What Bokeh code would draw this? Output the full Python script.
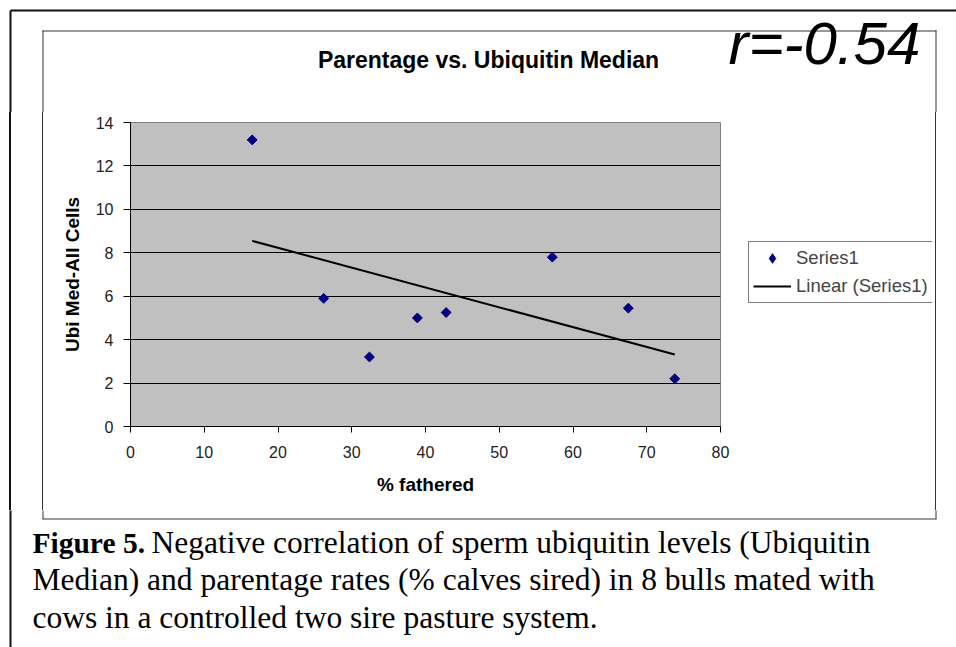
import numpy as np
from bokeh.plotting import figure
from bokeh.layouts import column, row
from bokeh.models import (Range1d, FixedTicker, Label, Legend, LegendItem,
                          ColumnDataSource, Div)
from bokeh.embed import file_html
from bokeh.resources import INLINE

# ---- data ----
pct_fathered = [16.5, 26.2, 32.4, 38.9, 42.8, 57.2, 67.5, 73.8]
ubi_median = [13.2, 5.9, 3.2, 5.0, 5.25, 7.8, 5.45, 2.2]
x_ticks = [0, 10, 20, 30, 40, 50, 60, 70, 80]
y_ticks = [0, 2, 4, 6, 8, 10, 12, 14]
series_name = "Series1"
trend_name = "Linear (Series1)"
title_text = "Parentage vs. Ubiquitin Median"
r_text = "r=-0.54"
x_label = "% fathered"
y_label = "Ubi Med-All Cells"
caption_bold = "Figure 5."
caption_line1 = "Negative correlation of sperm ubiquitin levels (Ubiquitin"
caption_line2 = "Median) and parentage rates (% calves sired) in 8 bulls mated with"
caption_line3 = "cows in a controlled two sire pasture system."

# linear trend line (least squares fit of the series)
slope, intercept = np.polyfit(pct_fathered, ubi_median, 1)
trend_x = [min(pct_fathered), max(pct_fathered)]
trend_y = [slope * v + intercept for v in trend_x]

SANS = "Liberation Sans"
SERIF = "Liberation Serif"
MARKER_COLOR = "#000080"
OUTER = "#111111"
INNER = "#333333"

W = 956
H_TOP, H_MID, H_BOT = 112, 398, 137      # header / chart row / caption heights
W_LEFT, W_MAIN, W_LEG = 50, 690, 192      # left strip / chart / legend strip
W_RIGHT = W - W_LEFT - W_MAIN - W_LEG
Y_MID = H_TOP
Y_BOT = H_TOP + H_MID


def canvas(w, h, x0, y0):
    """A plain drawing area whose coordinates are page pixels."""
    c = figure(width=w, height=h, x_range=Range1d(x0, x0 + w),
               y_range=Range1d(y0 + h, y0), min_border=0,
               x_axis_location=None, y_axis_location=None,
               output_backend="svg", toolbar_location=None)
    c.grid.visible = False
    c.outline_line_color = None
    c.background_fill_color = "white"
    c.border_fill_color = "white"
    return c


# ---------------- header ----------------
top = canvas(W, H_TOP, 0, 0)
top.segment(x0=[10, 10], y0=[10, 10], x1=[W + 5, 10], y1=[10, H_TOP + 5],
            line_color=OUTER, line_width=2)
top.segment(x0=[42, 42.5, 935.5], y0=[30.5, 30, 30], x1=[936, 42.5, 935.5],
            y1=[30.5, H_TOP + 5, H_TOP + 5], line_color=INNER, line_width=1)
# (Label y is the visual centre of the capitals)
top.add_layout(Label(x=488, y=59, text=title_text, text_align="center",
                     text_baseline="alphabetic", text_font=SANS,
                     text_font_style="bold", text_font_size="23px",
                     text_color="black"))
top.add_layout(Label(x=728, y=43, text=r_text, text_align="left",
                     text_baseline="alphabetic", text_font=SANS,
                     text_font_style="italic", text_font_size="60px",
                     text_color="black"))

# ---------------- left strip (box edges) ----------------
left = Div(width=W_LEFT, height=H_MID, margin=0,
           text=('<div style="box-sizing:border-box;margin:0 0 0 9px;padding:0;'
                 'width:34px;height:%dpx;border-left:2px solid %s;'
                 'border-right:1px solid %s;"></div>' % (H_MID, OUTER, INNER)))

# ---------------- main chart ----------------
p = figure(width=W_MAIN, height=H_MID, output_backend="svg", toolbar_location=None,
           x_range=Range1d(x_ticks[0], x_ticks[-1]),
           y_range=Range1d(y_ticks[0], y_ticks[-1]),
           min_border_left=80, min_border_right=20,
           min_border_top=10, min_border_bottom=84)
p.background_fill_color = "#C0C0C0"
p.border_fill_color = "white"
p.outline_line_color = "#808080"
p.xgrid.visible = False
p.ygrid.grid_line_color = "black"
p.ygrid.grid_line_width = 1
p.ygrid.ticker = FixedTicker(ticks=y_ticks)
p.xaxis.ticker = FixedTicker(ticks=x_ticks)
p.yaxis.ticker = FixedTicker(ticks=y_ticks)
for ax in (p.xaxis[0], p.yaxis[0]):
    ax.axis_line_color = "black"
    ax.major_tick_line_color = "black"
    ax.minor_tick_line_color = None
    ax.major_tick_in = 0
    ax.major_label_text_font = SANS
    ax.major_label_text_font_size = "16px"
    ax.major_label_text_color = "#222222"
    ax.axis_label_text_font = SANS
    ax.axis_label_text_font_style = "bold"
    ax.axis_label_text_font_size = "19px"
    ax.axis_label_text_color = "black"
p.xaxis.major_tick_out = 6
p.yaxis.major_tick_out = 7
p.xaxis.major_label_standoff = 13
p.yaxis.major_label_standoff = 10
p.xaxis.axis_label = x_label
p.yaxis.axis_label = y_label
p.xaxis.axis_label_standoff = 13
p.yaxis.axis_label_standoff = 10

src = ColumnDataSource(dict(x=pct_fathered, y=ubi_median))
trend_src = ColumnDataSource(dict(x=trend_x, y=trend_y))
p.scatter("x", "y", source=src, marker="square", size=7, angle=np.pi / 4,
          fill_color=MARKER_COLOR, line_color=MARKER_COLOR)
p.line("x", "y", source=trend_src, line_color="black", line_width=2)

# ---------------- legend strip ----------------
# The strip is aligned with the chart frame (page y 122..426); its legend
# refers to the same series (drawn there outside the strip's visible area).
leg = canvas(W_LEG, H_MID, W_LEFT + W_MAIN, Y_MID)
leg_pts = leg.scatter("x", "y", source=src, marker="diamond", size=10,
                      fill_color=MARKER_COLOR, line_color=MARKER_COLOR)
leg_line = leg.line("x", "y", source=trend_src, line_color="black", line_width=2)
legend = Legend(items=[LegendItem(label=series_name, renderers=[leg_pts]),
                       LegendItem(label=trend_name, renderers=[leg_line])],
                location=(748 - (W_LEFT + W_MAIN), 426 - 303))
legend.border_line_color = "black"
legend.border_line_width = 1
legend.background_fill_color = "white"
legend.background_fill_alpha = 1
legend.label_text_font = SANS
legend.label_text_font_size = "18.5px"
legend.glyph_width = 38
legend.glyph_height = 24
legend.label_height = 20
legend.label_standoff = 5
legend.spacing = 4
legend.padding = 4
legend.margin = 0
leg.add_layout(legend, "center")

# ---------------- right strip (box edge) ----------------
right = Div(width=W_RIGHT, height=H_MID, margin=0,
            text=('<div style="box-sizing:border-box;margin:0 0 0 3px;padding:0;'
                  'width:1px;height:%dpx;border-left:1px solid %s;"></div>'
                  % (H_MID, INNER)))

# ---------------- caption ----------------
bot = canvas(W, H_BOT, 0, Y_BOT)
bot.segment(x0=[10], y0=[Y_BOT - 5], x1=[10], y1=[W], line_color=OUTER, line_width=2)
bot.segment(x0=[42.5, 935.5, 42], y0=[Y_BOT - 5, Y_BOT - 5, 518.5],
            x1=[42.5, 935.5, 936], y1=[518.5, 518.5, 518.5],
            line_color=INNER, line_width=1)
cap_font = "31.5px"
bot.add_layout(Label(x=32, y=542, text=caption_bold, text_align="left",
                     text_baseline="alphabetic", text_font=SERIF,
                     text_font_style="bold", text_font_size="29.5px",
                     text_color="black"))
bot.add_layout(Label(x=151, y=542, text=caption_line1, text_align="left",
                     text_baseline="alphabetic", text_font=SERIF,
                     text_font_size=cap_font, text_color="black"))
bot.add_layout(Label(x=32, y=579, text=caption_line2, text_align="left",
                     text_baseline="alphabetic", text_font=SERIF,
                     text_font_size=cap_font, text_color="black"))
bot.add_layout(Label(x=32, y=616.5, text=caption_line3, text_align="left",
                     text_baseline="alphabetic", text_font=SERIF,
                     text_font_size=cap_font, text_color="black"))

layout = column(top, row(left, p, leg, right, spacing=0), bot, spacing=0)
open("out.html", "w").write(file_html(layout, INLINE))
